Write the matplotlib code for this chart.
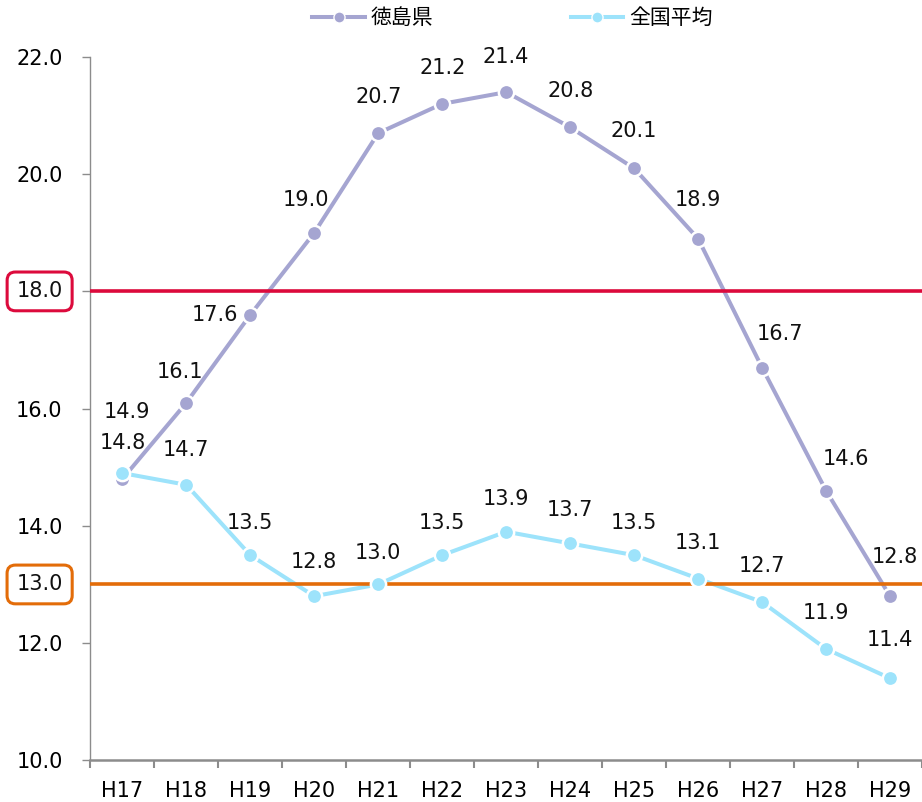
import matplotlib.pyplot as plt
from matplotlib.lines import Line2D

plt.rcParams['font.family'] = ['DejaVu Sans', 'Noto Sans CJK JP']

years = ['H17', 'H18', 'H19', 'H20', 'H21', 'H22', 'H23', 'H24', 'H25', 'H26', 'H27', 'H28', 'H29']
tokushima = [14.8, 16.1, 17.6, 19.0, 20.7, 21.2, 21.4, 20.8, 20.1, 18.9, 16.7, 14.6, 12.8]
zenkoku = [14.9, 14.7, 13.5, 12.8, 13.0, 13.5, 13.9, 13.7, 13.5, 13.1, 12.7, 11.9, 11.4]
ref_red = 18.0
ref_orange = 13.0

# label offsets in pixels (hand placed like the excel original)
tok_off = [(0, 36), (-6, 31), (-35, 0), (-8, 33), (0, 36), (0, 36), (0, 35),
           (0, 36), (0, 37), (0, 39), (18, 34), (20, 32), (5, 39)]
zen_off = [(5, 61), (0, 35), (0, 32), (0, 34), (0, 31), (0, 32), (0, 33),
           (0, 33), (0, 32), (0, 36), (0, 36), (0, 36), (0, 38)]

c_tok = '#a5a5d1'
c_zen = '#9de3fb'
c_red = '#dc0a3c'
c_org = '#e36c09'
fs = 15

fig = plt.figure(figsize=(9.22, 8.02), dpi=100)
ax = fig.add_axes([0.098, 0.052, 0.902, 0.877])

x = list(range(len(years)))
ax.plot(x, tokushima, color=c_tok, lw=2.9, zorder=2)
ax.plot(x, zenkoku, color=c_zen, lw=2.9, zorder=2)
ax.axhline(ref_red, color=c_red, lw=2.6, zorder=3)
ax.axhline(ref_orange, color=c_org, lw=2.6, zorder=3)
ax.plot(x, tokushima, ls='none', marker='o', ms=11, mfc=c_tok, mec='white', mew=1.8, zorder=4)
ax.plot(x, zenkoku, ls='none', marker='o', ms=11, mfc=c_zen, mec='white', mew=1.8, zorder=5)

for i in x:
    ax.annotate(f'{tokushima[i]:.1f}', (i, tokushima[i]), xytext=tok_off[i], textcoords='offset pixels',
                ha='center', va='center', fontsize=fs, color='#111111', zorder=6)
    ax.annotate(f'{zenkoku[i]:.1f}', (i, zenkoku[i]), xytext=zen_off[i], textcoords='offset pixels',
                ha='center', va='center', fontsize=fs, color='#111111', zorder=6)

ax.set_xlim(-0.5, len(years) - 0.5)
ax.set_ylim(10, 22)
ax.set_yticks([10, 12, 14, 16, 18, 20, 22])
ax.set_yticklabels(['10.0', '12.0', '14.0', '16.0', '', '20.0', '22.0'], fontsize=fs)
ax.set_xticks(x)
ax.set_xticklabels(years, fontsize=fs)
ax.set_xticks([i - 0.5 for i in range(len(years) + 1)], minor=True)
ax.tick_params(axis='x', which='major', length=0, pad=15)
ax.tick_params(axis='x', which='minor', length=6, width=1.5, color='#8c8c8c', direction='out')
ax.tick_params(axis='y', length=6, width=1, color='#8c8c8c', direction='out', pad=14)

for s in ['top', 'right']:
    ax.spines[s].set_visible(False)
ax.spines['left'].set_color('#8c8c8c')
ax.spines['left'].set_linewidth(1)
ax.spines['bottom'].set_color('#8c8c8c')
ax.spines['bottom'].set_linewidth(1.8)

# boxed reference values in the tick area
trans = ax.get_yaxis_transform()
for val, col in [(ref_red, c_red), (ref_orange, c_org)]:
    ax.text(-0.061, val, f'{val:.1f}', transform=trans, ha='center', va='center', fontsize=fs,
            color='#111111', clip_on=False, zorder=7,
            bbox=dict(boxstyle='round,pad=0.45,rounding_size=0.4', fc='white', ec=col, lw=2.2))

handles = [Line2D([], [], color=c_tok, lw=2.9, marker='o', ms=8, mfc=c_tok, mec='white', mew=1),
           Line2D([], [], color=c_zen, lw=2.9, marker='o', ms=8, mfc=c_zen, mec='white', mew=1)]
fig.legend(handles, ['徳島県', '全国平均'], loc='center', bbox_to_anchor=(0.556, 0.977), ncol=2,
           frameon=False, handlelength=2.5, handletextpad=0.3, columnspacing=6.6,
           prop={'family': ['Noto Sans CJK JP'], 'size': 15})

fig.savefig('out.png', dpi=100)
